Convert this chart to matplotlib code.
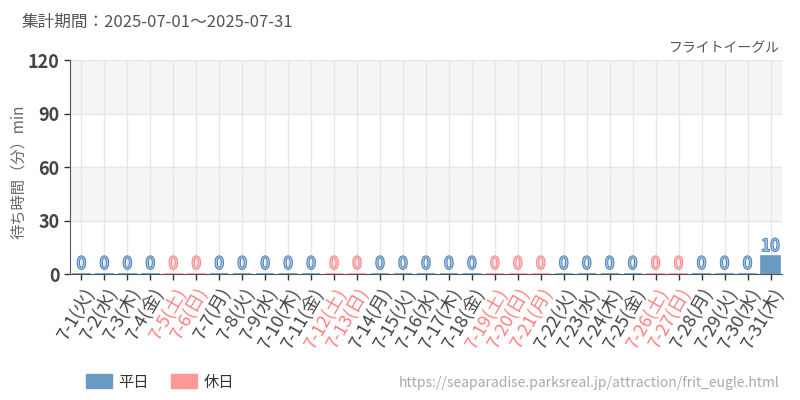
import matplotlib
matplotlib.use("Agg")
import matplotlib.pyplot as plt
import matplotlib.patheffects as pe
from matplotlib.patches import Patch

plt.rcParams['font.family'] = ['Noto Sans CJK JP', 'DejaVu Sans']

days = [f"7-{d}" for d in range(1, 32)]
weekdays = (["火", "水", "木", "金", "土", "日", "月"] * 5)[:31]
holidays = ["7-5", "7-6", "7-12", "7-13", "7-19", "7-20", "7-21", "7-26", "7-27"]
values = [0] * 30 + [10]

title = "集計期間：2025-07-01～2025-07-31"
attraction = "フライトイーグル"
url = "https://seaparadise.parksreal.jp/attraction/frit_eugle.html"
ylabel = "待ち時間（分）min"
yticks = [0, 30, 60, 90, 120]

c_week = "#6a9ac4"
c_hol = "#ff9999"
t_week = "#3f7ab4"
t_hol = "#ff7f7f"
f_week = "#a9c6e3"
f_hol = "#ffc4c4"

fig = plt.figure(figsize=(8, 4), dpi=100)
ax = fig.add_axes([70 / 800, 1 - 274 / 400, 712 / 800, 214 / 400])

n = len(days)
ax.set_xlim(-0.5, n - 0.5)
ax.set_ylim(0, 120)

for lo, hi, col in [(0, 30, "white"), (30, 60, "#f5f5f5"), (60, 90, "white"), (90, 120, "#f5f5f5")]:
    ax.axhspan(lo, hi, color=col, zorder=0, lw=0)
for y in yticks[1:]:
    ax.axhline(y, color="#e6e6e6", lw=1, zorder=1)
for i in range(n):
    ax.axvline(i, color="#e6e6e6", lw=1, zorder=1)

for i, (d, v) in enumerate(zip(days, values)):
    hol = d in holidays
    col = c_hol if hol else c_week
    ax.bar(i, v, width=0.8, color=col, edgecolor=col, lw=1.2, zorder=2)
    ax.text(i, v + 0.7, str(v), ha="center", va="bottom", fontsize=12,
            color=f_hol if hol else f_week, zorder=3,
            path_effects=[pe.withStroke(linewidth=1.3, foreground=t_hol if hol else t_week)])

ax.set_xticks(range(n))
labels = [f"{d}({w})" for d, w in zip(days, weekdays)]
ax.set_xticklabels(labels, rotation=60, ha="right", rotation_mode="anchor", fontsize=13)
for lab, d in zip(ax.get_xticklabels(), days):
    lab.set_color(t_hol if d in holidays else "#444444")

ax.set_yticks(yticks)
ax.set_yticklabels([str(y) for y in yticks], fontsize=13, color="#444444", fontweight="bold")
ax.tick_params(axis="both", length=4, color="#333333", width=1)
ax.tick_params(axis="x", pad=4)

for s in ["top", "right"]:
    ax.spines[s].set_visible(False)
ax.spines["left"].set_color("#555555")
ax.spines["bottom"].set_color("#555555")

fig.text(19 / 800, 1 - 172 / 400, ylabel, fontsize=11, color="#666666", rotation=90,
         va="center", ha="center")

fig.text(22 / 800, 1 - 22 / 400, title, fontsize=12, color="#555555", va="center", ha="left")
fig.text(780 / 800, 1 - 48 / 400, attraction, fontsize=10, color="#555555", va="center", ha="right")
fig.text(780 / 800, 1 - 383 / 400, url, fontsize=10, color="#aaaaaa", va="center", ha="right")

leg = fig.legend(handles=[Patch(color=c_week, label="平日"), Patch(color=c_hol, label="休日")],
                 loc="center left", bbox_to_anchor=(72 / 800, 1 - 382 / 400), ncol=2,
                 frameon=False, fontsize=11, handlelength=1.7, handleheight=1.0,
                 columnspacing=1.5, handletextpad=0.4)
for t in leg.get_texts():
    t.set_color("#333333")

fig.savefig("out.png", dpi=100)
